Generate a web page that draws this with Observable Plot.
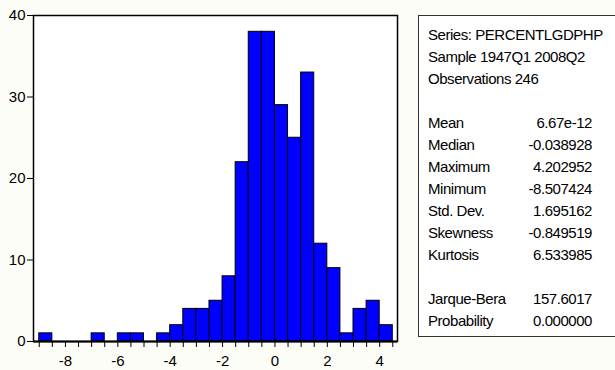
<!DOCTYPE html>
<html>
<head>
<meta charset="utf-8">
<script src="https://cdn.jsdelivr.net/npm/d3@7"></script>
<script src="https://cdn.jsdelivr.net/npm/@observablehq/plot@0.6"></script>
<style>
  html, body { margin: 0; padding: 0; background: #fdfdf8; }
  #wrap { position: relative; width: 615px; height: 370px; overflow: hidden; font-family: "Liberation Sans", Arial, sans-serif; }
  #chart { position: absolute; left: 0; top: 0; }
  #stats { position: absolute; left: 418px; top: 15px; width: 215px; height: 322px; border: 1px solid #333; background: #fff; box-sizing: border-box; padding-top: 8px; font-size: 15px; letter-spacing: -0.45px; color: #000; }
  .row { height: 22px; line-height: 22px; position: relative; white-space: nowrap; }
  .lab { position: absolute; left: 9px; }
  .val { position: absolute; right: 40px; text-align: right; }
</style>
</head>
<body>
<div id="wrap">
  <div id="chart"></div>
  <div id="stats"></div>
</div>
<script>
// Histogram bins (lower edges, width 0.5) and counts
const binLower = [-9, -8.5, -8, -7.5, -7, -6.5, -6, -5.5, -5, -4.5, -4, -3.5, -3, -2.5, -2, -1.5, -1, -0.5, 0, 0.5, 1, 1.5, 2, 2.5, 3, 3.5, 4];
const binUpper = [-8.5, -8, -7.5, -7, -6.5, -6, -5.5, -5, -4.5, -4, -3.5, -3, -2.5, -2, -1.5, -1, -0.5, 0, 0.5, 1, 1.5, 2, 2.5, 3, 3.5, 4, 4.5];
const counts   = [1, 0, 0, 0, 1, 0, 1, 1, 0, 1, 2, 4, 4, 5, 8, 22, 38, 38, 29, 25, 33, 12, 9, 1, 4, 5, 2];
const xTickLabels = [-8, -6, -4, -2, 0, 2, 4];
const yTickLabels = [0, 10, 20, 30, 40];

// Statistics box
const headerLines = ["Series: PERCENTLGDPHP", "Sample 1947Q1 2008Q2", "Observations 246"];
const statNames  = ["Mean", "Median", "Maximum", "Minimum", "Std. Dev.", "Skewness", "Kurtosis"];
const statValues = ["6.67e-12", "-0.038928", "4.202952", "-8.507424", "1.695162", "-0.849519", "6.533985"];
const testNames  = ["Jarque-Bera", "Probability"];
const testValues = ["157.6017", "0.000000"];

const bins = binLower.map((lo, i) => ({lo, hi: binUpper[i], n: counts[i]})).filter(d => d.n > 0);
const edges = [binLower[0], ...binUpper];

const plot = Plot.plot({
  width: 410,
  height: 370,
  marginLeft: 33,
  marginTop: 15,
  marginRight: 13,
  marginBottom: 29,
  style: {background: "transparent", fontFamily: "Liberation Sans, Arial, sans-serif", fontSize: "15px", color: "#000"},
  x: {domain: [-9.22, 4.68]},
  y: {domain: [0, 40]},
  marks: [
    Plot.frame({fill: "#fff", stroke: "none"}),
    Plot.rectY(bins, {x1: "lo", x2: "hi", y: "n", fill: "#0000ff", stroke: "#000", strokeWidth: 1, inset: 0}),
    Plot.frame({stroke: "#000", strokeWidth: 1.5}),
    Plot.ruleY([0], {stroke: "#000", strokeWidth: 2}),
    Plot.axisX({ticks: edges, tickSize: 6, tickPadding: 8, tickFormat: d => xTickLabels.includes(d) ? String(d).replace("−", "-") : "", label: null, fontSize: 15}),
    Plot.axisY({ticks: yTickLabels, tickSize: 6, tickPadding: 2, tickFormat: d => String(d), label: null, fontSize: 15})
  ]
});
document.getElementById("chart").appendChild(plot);

const box = document.getElementById("stats");
function addRow(lab, val) {
  const r = document.createElement("div");
  r.className = "row";
  if (lab) { const s = document.createElement("span"); s.className = "lab"; s.textContent = lab; r.appendChild(s); }
  if (val) { const s = document.createElement("span"); s.className = "val"; s.textContent = val; r.appendChild(s); }
  box.appendChild(r);
}
headerLines.forEach(h => addRow(h, null));
addRow(null, null);
statNames.forEach((n, i) => addRow(n, statValues[i]));
addRow(null, null);
testNames.forEach((n, i) => addRow(n, testValues[i]));
</script>
</body>
</html>
